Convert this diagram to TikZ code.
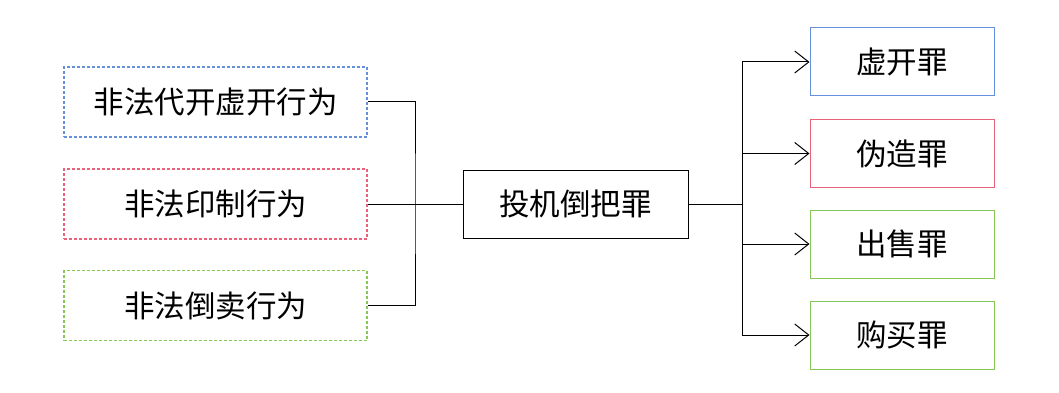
\documentclass[tikz,border=0pt]{standalone}
\usepackage{fontspec}
\newfontfamily\cjk{Noto Sans CJK SC}
\usetikzlibrary{arrows.meta}
\definecolor{cblue}{HTML}{6690DC}
\definecolor{cred}{HTML}{E8637A}
\definecolor{cgreen}{HTML}{86C757}
\begin{document}
\begin{tikzpicture}[x=1pt,y=-1pt,
  txt/.style={font=\cjk\fontsize{30.5}{33}\selectfont},
  lbox/.style={txt,draw,dash pattern=on 3pt off 2pt,line width=1.1pt,minimum width=303pt,minimum height=70pt,inner sep=0pt},
  rbox/.style={txt,draw,line width=1pt,minimum width=184pt,minimum height=68pt,inner sep=0pt},
  cbox/.style={txt,draw,line width=1pt,minimum width=225pt,minimum height=68pt,inner sep=0pt},
  conn/.style={line width=1pt},
  arr/.style={line width=1pt,-{Straight Barb[length=14pt,width=22pt,line width=1pt]}}]
\useasboundingbox (0,0) rectangle (1059,393);
\node[lbox,cblue] (l1) at (215.5,102) {\textcolor{black}{非法代开虚开行为}};
\node[lbox,cred] (l2) at (215.5,204) {\textcolor{black}{非法印制行为}};
\node[lbox,cgreen] (l3) at (215.5,305.5) {\textcolor{black}{非法倒卖行为}};
\node[cbox] (c) at (575.5,204) {投机倒把罪};
\node[rbox,cblue] (r1) at (902,62) {\textcolor{black}{虚开罪}};
\node[rbox,cred] (r2) at (902,153.5) {\textcolor{black}{伪造罪}};
\node[rbox,cgreen] (r3) at (902,244) {\textcolor{black}{出售罪}};
\node[rbox,cgreen] (r4) at (902,335) {\textcolor{black}{购买罪}};
\coordinate (jl) at (415,204);
\coordinate (jr) at (742,204);
\draw[conn] (l1.east) -| (jl) |- (l3.east);
\draw[conn] (l2.east) -- (c.west);
\draw[conn] (c.east) -- (jr);
\draw[conn] (jr |- r1.west) -- (jr |- r4.west);
\draw[arr] (jr |- r1.west) -- (r1.west);
\draw[arr] (jr |- r2.west) -- (r2.west);
\draw[arr] (jr |- r3.west) -- (r3.west);
\draw[arr] (jr |- r4.west) -- (r4.west);
\end{tikzpicture}
\end{document}
